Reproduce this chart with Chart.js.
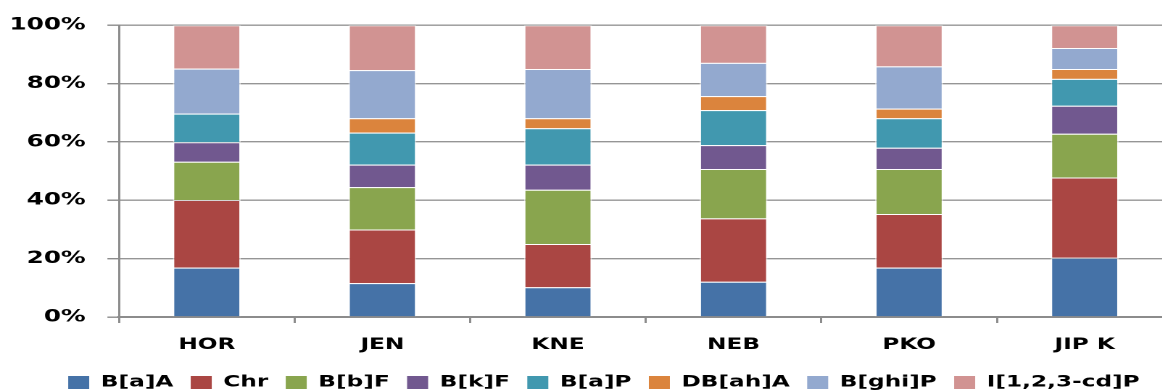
<!DOCTYPE html>
<html>
<head>
<meta charset="utf-8">
<script src="https://cdn.jsdelivr.net/npm/chart.js@4.4.1/dist/chart.umd.min.js"></script>
<style>
  html, body { margin: 0; padding: 0; background: #fff; }
  #wrap { width: 1162px; height: 392px; overflow: hidden; position: relative; }
  /* the whole chart is drawn narrow and stretched sideways */
  #chart { position: absolute; left: 0; top: 0; transform: scaleX(1.45); transform-origin: 0 0; }
</style>
</head>
<body>
<div id="wrap"><canvas id="chart" width="810" height="392"></canvas></div>
<script>
// sites
var sites = ["HOR", "JEN", "KNE", "NEB", "PKO", "JIP K"];

// share of each PAH per site (%)
var baa   = [16.9, 11.6, 10.2, 12.1, 16.9, 20.3];
var chr   = [23.2, 18.4, 14.8, 21.7, 18.4, 27.5];
var bbf   = [13.1, 14.5, 18.6, 16.9, 15.4, 15.0];
var bkf   = [6.7, 7.7, 8.6, 8.2, 7.3, 9.6];
var bap   = [9.8, 11.0, 12.5, 12.0, 10.1, 9.2];
var dbaha = [0, 4.9, 3.4, 4.8, 3.3, 3.4];
var bghip = [15.4, 16.5, 16.9, 11.4, 14.5, 7.2];
var icdp  = [14.9, 15.4, 15.0, 12.9, 14.1, 7.8];

var yTicks = [0, 20, 40, 60, 80, 100];

var series = [
  ["B[a]A", baa, "#4572A7"],
  ["Chr", chr, "#AA4643"],
  ["B[b]F", bbf, "#89A54E"],
  ["B[k]F", bkf, "#71588F"],
  ["B[a]P", bap, "#4198AF"],
  ["DB[ah]A", dbaha, "#DB843D"],
  ["B[ghi]P", bghip, "#93A9CF"],
  ["I[1,2,3-cd]P", icdp, "#D19392"]
];

var axisGray = "#8c8c8c";
var gridGray = "#959595";

// nudge the legend row a little to the right of the plot centre
var legendShift = {
  id: "legendShift",
  afterLayout: function (chart) {
    chart.legend.left += 12.2;
    chart.legend.right += 12.2;
  }
};

var ctx = document.getElementById("chart").getContext("2d");
var chart = new Chart(ctx, {
  type: "bar",
  data: {
    labels: sites,
    datasets: series.map(function (s) {
      return {
        label: s[0],
        data: s[1],
        backgroundColor: s[2],
        borderColor: "rgba(255,255,255,0.55)",
        borderWidth: 1,
        barPercentage: 0.387,
        categoryPercentage: 1
      };
    })
  },
  plugins: [legendShift],
  options: {
    responsive: false,
    animation: false,
    devicePixelRatio: 2,
    // legend sits low, so the bottom padding is pulled in
    layout: { padding: { top: 23.5, left: 0, right: 1.4, bottom: -8.5 } },
    plugins: {
      tooltip: { enabled: false },
      legend: {
        position: "bottom",
        labels: {
          boxWidth: 14.5,
          boxHeight: 13,
          padding: 12,
          color: "#000",
          font: { family: "DejaVu Sans", weight: "bold", size: 16 },
          generateLabels: function (chart) {
            var items = Chart.defaults.plugins.legend.labels.generateLabels(chart);
            items.forEach(function (it) { it.lineWidth = 0; });
            return items;
          }
        }
      }
    },
    scales: {
      x: {
        stacked: true,
        afterFit: function (scale) { scale.height = 45.5; },
        grid: {
          offset: true,
          drawOnChartArea: false,
          drawTicks: true,
          tickLength: 6,
          color: axisGray,
          lineWidth: 1.5
        },
        border: { color: axisGray, width: 2 },
        ticks: {
          padding: 12,
          color: "#000",
          font: { family: "DejaVu Sans", weight: "bold", size: 16 }
        }
      },
      y: {
        stacked: true,
        min: 0,
        max: 100,
        afterFit: function (scale) { scale.width = 119 / 1.45; },
        afterBuildTicks: function (scale) {
          scale.ticks = yTicks.map(function (v) { return { value: v }; });
        },
        grid: {
          color: gridGray,
          lineWidth: 1.4,
          borderDash: [6.9, 5.2],
          tickLength: 8,
          tickColor: axisGray,
          tickBorderDash: []
        },
        border: { color: axisGray, width: 1.5 },
        ticks: {
          padding: 15,
          color: "#000",
          font: { family: "DejaVu Sans", weight: "bold", size: 17 },
          callback: function (v) { return v + "%"; }
        }
      }
    }
  }
});
</script>
</body>
</html>
